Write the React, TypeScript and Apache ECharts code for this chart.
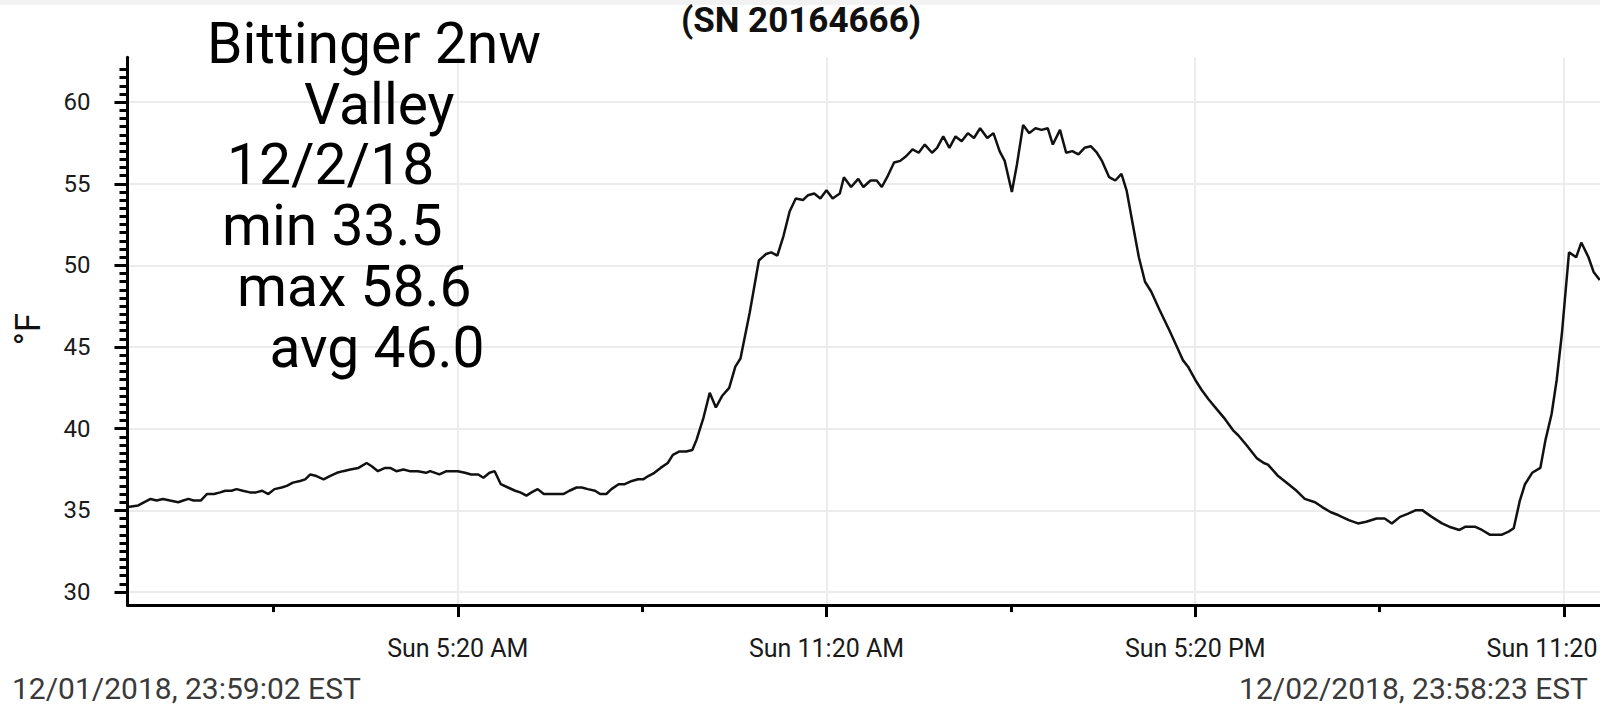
import React, { useEffect, useRef } from "react";
import * as echarts from "echarts";

// Time of each reading, minutes since midnight of Sun 12/02/2018 (negative = Sat 12/01)
const minutes = [
  -2, 8, 20, 26, 32, 39, 47, 52, 57, 62, 69, 75, 82, 88, 93, 99, 104, 110, 117, 123,
  129, 135, 141, 148, 153, 159, 166, 171, 176, 182, 189, 195, 202, 208, 215, 223, 231, 236, 242, 249,
  254, 260, 267, 273, 281, 289, 293, 302, 309, 320, 327, 333, 340, 345, 351, 356, 362, 369, 376, 381,
  387, 392, 398, 404, 413, 423, 429, 436, 441, 447, 454, 459, 465, 470, 477, 483, 490, 496, 501, 506,
  512, 518, 525, 530, 536, 543, 549, 553, 560, 566, 572, 578, 585, 591, 596, 605, 614, 621, 626, 632,
  638, 644, 650, 657, 662, 668, 674, 680, 686, 693, 697, 704, 711, 716, 723, 729, 734, 740, 746, 752,
  758, 764, 770, 776, 783, 788, 794, 800, 806, 812, 818, 824, 830, 837, 843, 849, 854, 861, 866, 872,
  878, 884, 890, 896, 901, 908, 914, 920, 926, 932, 938, 944, 949, 956, 962, 968, 973, 980, 985, 991,
  997, 1005, 1015, 1023, 1028, 1033, 1040, 1046, 1053, 1061, 1069, 1077, 1082, 1090, 1100, 1107, 1111, 1121, 1129, 1139,
  1147, 1157, 1164, 1172, 1180, 1190, 1199, 1207, 1217, 1225, 1232, 1240, 1248, 1255, 1262, 1271, 1281, 1288, 1298, 1304,
  1313, 1320, 1328, 1339, 1346, 1351, 1357, 1362, 1369, 1377, 1382, 1388, 1393, 1398, 1405, 1412, 1417, 1424, 1429, 1435,
];

// Temperature readings, °F
const tempsF = [
  35.2, 35.3, 35.7, 35.6, 35.7, 35.6, 35.5, 35.6, 35.7, 35.6, 35.6, 36.0, 36.0, 36.1, 36.2, 36.2, 36.3, 36.2, 36.1, 36.1,
  36.2, 36.0, 36.3, 36.4, 36.5, 36.7, 36.8, 36.9, 37.2, 37.1, 36.9, 37.1, 37.3, 37.4, 37.5, 37.6, 37.9, 37.7, 37.4, 37.6,
  37.6, 37.4, 37.5, 37.4, 37.4, 37.3, 37.4, 37.2, 37.4, 37.4, 37.3, 37.2, 37.2, 37.0, 37.3, 37.4, 36.6, 36.4, 36.2, 36.1,
  35.9, 36.1, 36.3, 36.0, 36.0, 36.0, 36.2, 36.4, 36.4, 36.3, 36.2, 36.0, 36.0, 36.3, 36.6, 36.6, 36.8, 36.9, 36.9, 37.1,
  37.3, 37.6, 37.9, 38.4, 38.6, 38.6, 38.7, 39.3, 40.7, 42.2, 41.3, 42.0, 42.5, 43.8, 44.3, 47.1, 50.3, 50.7, 50.8, 50.6,
  51.8, 53.3, 54.1, 54.0, 54.3, 54.4, 54.1, 54.6, 54.1, 54.4, 55.4, 54.8, 55.3, 54.8, 55.2, 55.2, 54.8, 55.5, 56.3, 56.4,
  56.7, 57.1, 56.9, 57.4, 56.9, 57.2, 57.9, 57.2, 57.9, 57.6, 58.1, 57.8, 58.4, 57.8, 58.1, 57.0, 56.4, 54.5, 56.2, 58.6,
  58.1, 58.4, 58.3, 58.4, 57.4, 58.3, 56.9, 57.0, 56.8, 57.2, 57.3, 56.9, 56.4, 55.4, 55.2, 55.6, 54.6, 52.2, 50.5, 49.0,
  48.4, 47.3, 46.0, 44.9, 44.2, 43.8, 43.0, 42.4, 41.8, 41.2, 40.6, 39.9, 39.6, 39.0, 38.2, 37.9, 37.8, 37.1, 36.7, 36.2,
  35.7, 35.5, 35.2, 34.9, 34.7, 34.4, 34.2, 34.3, 34.5, 34.5, 34.2, 34.6, 34.8, 35.0, 35.0, 34.6, 34.2, 34.0, 33.8, 34.0,
  34.0, 33.8, 33.5, 33.5, 33.7, 33.9, 35.6, 36.6, 37.3, 37.6, 39.3, 40.9, 43.0, 45.8, 50.8, 50.5, 51.4, 50.5, 49.6, 49.1,
];

// Axis ticks and labels
const yMajorTicks = [30, 35, 40, 45, 50, 55, 60];
const yMinorTop = 62;
const yMinorStep = 0.5;
const xMajorTicks = [320, 680, 1040, 1400];
const xMajorLabels = ["Sun 5:20 AM", "Sun 11:20 AM", "Sun 5:20 PM", "Sun 11:20 PM"];
const xMinorTicks = [140, 500, 860, 1220];

// Texts
const titleText = "(SN 20164666)";
const yUnit = "°F";
const noteLines = ["Bittinger 2nw", "Valley", "12/2/18", "min 33.5", "max 58.6", "avg 46.0"];
const startStamp = "12/01/2018, 23:59:02 EST";
const endStamp = "12/02/2018, 23:58:23 EST";

// Layout (pixels)
const noteLayout = [
  [207, 43],
  [304, 104],
  [227, 164],
  [222, 225],
  [237, 286],
  [269.5, 347],
];

export default function App() {
  const ref = useRef<HTMLDivElement>(null);

  useEffect(() => {
    if (!ref.current) return;
    const chart = echarts.init(ref.current, undefined, { renderer: "svg" });

    const yMinorTicks: number[] = [];
    for (let v = yMajorTicks[0] + yMinorStep; v <= yMinorTop + 1e-9; v += yMinorStep) {
      const r = Math.round(v * 10) / 10;
      if (!yMajorTicks.includes(r)) yMinorTicks.push(r);
    }

    const xMin = -2.5;
    const xMax = 1450;
    const pxPerMin = 368.7 / 360;
    const yMin = 29.2;
    const yMax = 62.75;
    const pxPerDeg = 16.33;
    const font = "Roboto";

    const lineData = minutes.map((m, i) => [m, tempsF[i]]);

    const option: any = {
      animation: false,
      backgroundColor: "#ffffff",
      grid: {
        left: 127.5,
        top: 57.2,
        width: (xMax - xMin) * pxPerMin,
        height: (yMax - yMin) * pxPerDeg,
        containLabel: false,
        outerBoundsMode: "none",
      },
      xAxis: [
        {
          type: "value",
          min: xMin,
          max: xMax,
          position: "bottom",
          axisLine: { show: true, onZero: false, lineStyle: { color: "#000", width: 3 } },
          axisTick: {
            show: true,
            customValues: xMajorTicks,
            length: 12,
            lineStyle: { color: "#000", width: 3 },
          },
          axisLabel: {
            show: true,
            customValues: xMajorTicks,
            margin: 31,
            fontFamily: font,
            fontSize: 25,
            color: "#1a1a1a",
            formatter: (v: number) => {
              const i = xMajorTicks.indexOf(Math.round(v));
              return i >= 0 ? xMajorLabels[i] : "";
            },
          },
          splitLine: { show: true, lineStyle: { color: "#ececec", width: 2 } },
        },
        {
          type: "value",
          min: xMin,
          max: xMax,
          position: "bottom",
          axisLine: { show: false, onZero: false },
          axisTick: {
            show: true,
            customValues: xMinorTicks,
            length: 7,
            lineStyle: { color: "#000", width: 3 },
          },
          axisLabel: { show: false },
          splitLine: { show: false },
        },
      ],
      yAxis: [
        {
          type: "value",
          min: yMin,
          max: yMax,
          position: "left",
          axisLine: { show: true, onZero: false, lineStyle: { color: "#000", width: 3 } },
          axisTick: {
            show: true,
            customValues: yMajorTicks,
            length: 13,
            lineStyle: { color: "#000", width: 3 },
          },
          axisLabel: {
            show: true,
            customValues: yMajorTicks,
            margin: 37,
            fontFamily: font,
            fontSize: 24,
            color: "#1a1a1a",
          },
          splitLine: { show: true, lineStyle: { color: "#ececec", width: 2 } },
        },
        {
          type: "value",
          min: yMin,
          max: yMax,
          position: "left",
          axisLine: { show: false, onZero: false },
          axisTick: {
            show: true,
            customValues: yMinorTicks,
            length: 8,
            lineStyle: { color: "#000", width: 3 },
          },
          axisLabel: { show: false },
          splitLine: { show: false },
        },
      ],
      series: [
        {
          type: "line",
          xAxisIndex: 0,
          yAxisIndex: 0,
          data: lineData,
          showSymbol: false,
          symbol: "none",
          lineStyle: { color: "#111", width: 2.5 },
          z: 5,
        },
      ],
      graphic: [
        {
          type: "rect",
          shape: { x: 0, y: 0, width: 1700, height: 5 },
          style: { fill: "#f2f2f2" },
          silent: true,
        },
        {
          type: "text",
          x: 801,
          y: 20,
          style: {
            text: titleText,
            fontFamily: font,
            fontWeight: "bold",
            fontSize: 35,
            fill: "#111",
            align: "center",
            verticalAlign: "middle",
          },
        },
        {
          type: "text",
          x: 28,
          y: 329,
          rotation: Math.PI / 2,
          style: {
            text: yUnit,
            fontFamily: font,
            fontSize: 35,
            fill: "#111",
            align: "center",
            verticalAlign: "middle",
          },
        },
        ...noteLines.map((t, i) => ({
          type: "text",
          x: noteLayout[i][0],
          y: noteLayout[i][1],
          z: 10,
          style: {
            text: t,
            fontFamily: font,
            fontSize: 57,
            fill: "#000",
            align: "left",
            verticalAlign: "middle",
          },
        })),
        {
          type: "text",
          x: 12,
          y: 688,
          style: {
            text: startStamp,
            fontFamily: font,
            fontSize: 30,
            fill: "#3a3a3a",
            align: "left",
            verticalAlign: "middle",
          },
        },
        {
          type: "text",
          x: 1588,
          y: 688,
          style: {
            text: endStamp,
            fontFamily: font,
            fontSize: 30,
            fill: "#3a3a3a",
            align: "right",
            verticalAlign: "middle",
          },
        },
      ],
    };

    chart.setOption(option);
    return () => {
      chart.dispose();
    };
  }, []);

  return (
    <div
      style={{
        position: "fixed",
        left: 0,
        top: 0,
        width: 1600,
        height: 719,
        overflow: "hidden",
        background: "#fff",
      }}
    >
      <div ref={ref} style={{ width: 1640, height: 719 }} />
    </div>
  );
}
